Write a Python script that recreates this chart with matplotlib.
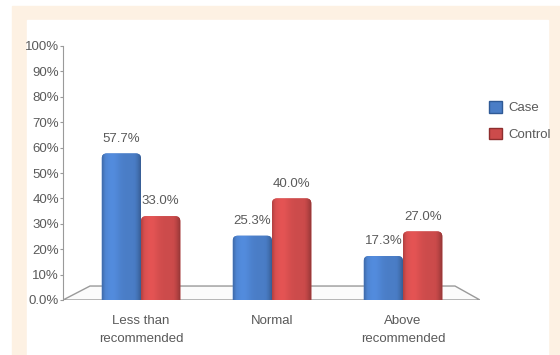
import numpy as np
import matplotlib
matplotlib.use("Agg")
import matplotlib.pyplot as plt
from matplotlib.patches import Rectangle, Polygon, FancyBboxPatch

categories = ["Less than\nrecommended", "Normal", "Above\nrecommended"]
case = [57.7, 25.3, 17.3]
control = [33.0, 40.0, 27.0]
yticks = [0, 10, 20, 30, 40, 50, 60, 70, 80, 90, 100]
ytick_labels = ["0.0%", "10%", "20%", "30%", "40%", "50%", "60%", "70%", "80%", "90%", "100%"]

plt.rcParams["font.family"] = ["Liberation Sans", "DejaVu Sans"]
TXT = "#5a5a5a"
BLUE = "#4a7dc6"
RED = "#cc4b4b"
FS = 9.5

W, H = 560, 355
fig = plt.figure(figsize=(W / 100, H / 100), dpi=100, facecolor="white")

# beige frame and white inner panel (figure pixel coords)
bg = fig.add_axes([0, 0, 1, 1])
bg.set_xlim(0, W); bg.set_ylim(H, 0); bg.axis("off")
bg.add_patch(Rectangle((12, 6), W - 12, H - 6, color="#fdf1e3"))
bg.add_patch(Rectangle((27, 20), 548 - 27, H - 20, color="white"))

# plot area: x 63..480 px, y 46..300 px
ax = fig.add_axes([63 / W, (H - 300) / H, (480 - 63) / W, (300 - 46) / H])
ax.patch.set_alpha(0)
x = np.arange(len(categories))
px = 131.0
ax.set_xlim((63 - 141) / px, (480 - 141) / px)
ax.set_ylim(0, 100)

# floor
depth = 5.5
floor = Polygon([[(63 - 141) / px, 0], [(480 - 141) / px, 0],
                 [(455 - 141) / px, depth], [(90 - 141) / px, depth]],
                closed=True, facecolor="#fbfbfb", edgecolor="#9a9a9a", lw=1.0, zorder=1)
ax.add_patch(floor)

bw = 0.30
bars_case = ax.bar(x - bw / 2, case, bw, bottom=0, color=BLUE, zorder=3)
bars_ctrl = ax.bar(x + bw / 2, control, bw, bottom=0, color=RED, zorder=3)

aspect = (100 / 254) / (1 / px)   # y units per px / x units per px
rnd = 5 / px


def shade(bars, base):
    rgb = np.array(matplotlib.colors.to_rgb(base))
    t = np.linspace(0, 1, 64)
    prof = 1 + 0.12 * np.exp(-((t - 0.25) / 0.2) ** 2) - 0.30 * np.clip((t - 0.8) / 0.2, 0, 1) ** 1.5 \
        - 0.15 * np.clip((0.08 - t) / 0.08, 0, 1)
    img = np.clip(rgb[None, :] * prof[:, None], 0, 1)[None, :, :]
    for b in bars:
        b.set_visible(False)
        x0, w, h = b.get_x(), b.get_width(), b.get_height()
        box = FancyBboxPatch((x0, -3), w, h + 3,
                             boxstyle=f"round,pad=0,rounding_size={rnd}",
                             mutation_aspect=aspect, facecolor=base, edgecolor="none",
                             zorder=3)
        ax.add_patch(box)
        im = ax.imshow(img, extent=[x0, x0 + w, 0, h],
                       aspect="auto", zorder=4, interpolation="bilinear")
        im.set_clip_path(box)


shade(bars_case, BLUE)
shade(bars_ctrl, RED)

for bars, vals in ((bars_case, case), (bars_ctrl, control)):
    for b, v in zip(bars, vals):
        ax.text(b.get_x() + b.get_width() / 2, v + 3.5, f"{v:.1f}%",
                ha="center", va="bottom", fontsize=FS, color=TXT, zorder=5)

ax.set_yticks(yticks)
ax.set_yticklabels(ytick_labels, fontsize=FS, color=TXT)
ax.set_xticks(x)
ax.set_xticklabels(categories, fontsize=FS, color=TXT, linespacing=1.6)
ax.tick_params(axis="x", length=0, pad=11)
ax.tick_params(axis="y", length=2, width=0.8, color="#9a9a9a", pad=1)
for s in ("top", "right", "bottom"):
    ax.spines[s].set_visible(False)
ax.spines["left"].set_color("#9a9a9a")

handles = [Rectangle((0, 0), 1, 1, facecolor=BLUE, edgecolor="#2f5a96"),
           Rectangle((0, 0), 1, 1, facecolor=RED, edgecolor="#8e2e2e")]
fig.legend(handles, ["Case", "Control"], loc="center left",
           bbox_to_anchor=(477 / W, 1 - 121 / H), frameon=False, fontsize=FS,
           handlelength=1.0, handleheight=1.0, handletextpad=0.5, labelspacing=1.0,
           labelcolor=TXT)

fig.savefig("out.png", dpi=100, facecolor="white")
